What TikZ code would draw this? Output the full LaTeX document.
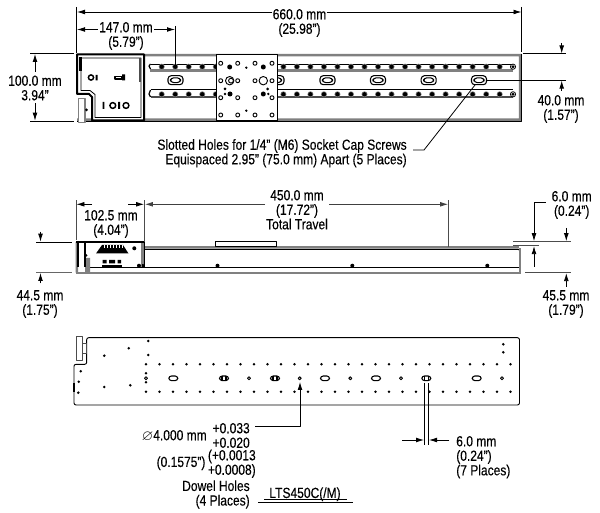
\documentclass[tikz,border=0pt]{standalone}
\usepackage{amssymb}
\usepackage{fontspec}
\setmainfont[FakeStretch=0.82,FakeBold=0.25]{Liberation Sans}
\usetikzlibrary{arrows.meta,positioning,calc}
\tikzset{
  dimtext/.style={font=\fontsize{11}{10.5}\selectfont,inner sep=0pt,text height=9.2pt,text depth=1.3pt},
  dimline/.style={line width=0.6pt,-{Latex[length=6pt,width=3.6pt]}},
  extline/.style={line width=0.6pt},
  railline/.style={line width=0.9pt},
  slothole/.style={line width=0.8pt,fill=white,rounded corners=2.4pt},
  openhole/.style={line width=0.7pt,fill=white},
}
\definecolor{bandgrey}{gray}{0.5}
\begin{document}
\begin{tikzpicture}[x=0.75pt,y=-0.75pt,line join=round]
\useasboundingbox (0,0) rectangle (600,513);
% top view
\fill[bandgrey] (77,54) rectangle (521,56.5) (77,118.5) rectangle (521,120.8) (518.8,54) rectangle (521.6,120.8);
\draw[extline] (521.8,54) -- (521.8,121) -- (77,121);
\fill[bandgrey] (150,69) rectangle (513,72);
\draw[railline] (151,64.3) -- (513,64.3) (151,89.3) -- (513,89.3);
\draw[line width=1pt,draw=black!70] (151,97) -- (513,97);
\draw[railline] (150.5,64) -- (149,66) -- (150.5,69);
\draw[railline] (150.5,90) -- (149,94) -- (150.5,97);
\foreach \k in {0,...,25} {
  \fill[bandgrey] ({161.7+13.52*\k},66.7) circle (3) ({161.7+13.52*\k},94.3) circle (3);
  \fill ({161.7+13.52*\k},66.7) circle (2.2) ({161.7+13.52*\k},94.3) circle (2.2);
}
\draw[extline,fill=white] (513,66.7) circle (2.6) (513,94.3) circle (2.6);
\fill (513,66.7) circle (1.6) (513,94.3) circle (1.6);
\foreach \sx in {175.5,276.5,327.5,378,428.7,479} {
  \draw[slothole] (\sx-7.5,75.7) rectangle (\sx+7.5,84.7);
  \draw[slothole] (\sx-5,77.8) rectangle (\sx+5,82.6);
}
% plate
\draw[line width=1.1pt,fill=white] (216.7,54.5) rectangle (277.3,121);
\foreach \hx in {220.7,237.7,255,272} {
  \foreach \hy in {63.3,80.7,97.7,115} {
    \draw[openhole] (\hx,\hy) circle (2);
  }
}
\draw[openhole] (229.7,80.7) circle (4.2) (263.3,80.7) circle (4.2);
\draw[openhole] (231,80.7) circle (2.4);
\fill (229.7,67) circle (2.5) (263.3,67) circle (2.5) (230,94) circle (2.5) (263.3,94) circle (2.5)
  (225,89) circle (1.5) (267.7,89) circle (1.5) (225,94) circle (1.3) (268.3,94) circle (1.3)
  (246.3,67.7) circle (1.3) (246.3,110.7) circle (1.3);
% carriage
\draw[line width=1.5pt,fill=white] (77,54.5) -- (144,54.5) -- (144,120.5) -- (92,120.5) -- (92,97) -- (89,94) -- (77,94) -- cycle;
\draw[line width=0.6pt] (81,58) -- (141,58) -- (141,117.5) -- (95,117.5) -- (95,94.5) -- (90,90.5) -- (81,90.5) -- cycle;
\fill (79,57) rectangle (82,71);
\fill[black!70] (138.5,58) rectangle (140.5,82);
\draw[line width=1.1pt] (91,77.5) circle (2.6) (112.8,105.5) circle (2.9) (126,105.5) circle (2.9);
\fill (95.7,75) rectangle (97.7,80.3) (102.5,102) rectangle (104.3,109) (118.2,102) rectangle (120,109) (122,74.5) rectangle (125,80.3);
\draw[line width=0.9pt] (115,76.3) rectangle (122,79);
\draw[line width=1pt,draw=black!50,fill=white] (78.5,98.5) rectangle (85,122.5);
\fill (86.5,110) circle (1.5);
% top view dimensions
\coordinate (topLeft) at (77,12);
\coordinate (topRight) at (521.5,12);
\draw[extline] (76.3,7) -- (76.3,53);
\draw[extline] (521.8,7) -- (521.8,52);
\node[dimtext] (lenAll) at (299.5,14) {660.0 mm};
\node[dimtext,below=0pt of lenAll] (lenAllIn) {(25.98'')};
\draw[dimline] (lenAll.west|-topLeft) -- (topLeft);
\draw[dimline] (lenAll.east|-topRight) -- (topRight);
\coordinate (slotLeft) at (77,29.5);
\coordinate (slotFirst) at (175,29.5);
\node[dimtext] (lenSlot) at (126,27) {147.0 mm};
\node[dimtext,below=0pt of lenSlot] (lenSlotIn) {(5.79'')};
\draw[dimline] ([xshift=-1pt]lenSlot.west|-slotLeft) -- (slotLeft);
\draw[dimline] ([xshift=1pt]lenSlot.east|-slotFirst) -- (slotFirst);
\draw[extline] (175,26) -- (175,67);
\draw[extline] (30,53.7) -- (74,53.7) (30,121) -- (74,121);
\node[dimtext] (lenWidth) at (35,80.5) {100.0 mm};
\node[dimtext,below=0pt of lenWidth] (lenWidthIn) {3.94''};
\draw[dimline] (35,72) -- (35,54);
\draw[dimline] (35,103) -- (35,120.7);
\draw[extline] (523,53.7) -- (566,53.7) (487,80.3) -- (566,80.3);
\draw[dimline] (561.7,43) -- (561.7,53.5);
\draw[dimline] (561.7,91) -- (561.7,80.6);
\node[dimtext] (lenRail) at (561,100) {40.0 mm};
\node[dimtext,below=0pt of lenRail] (lenRailIn) {(1.57'')};
\node[dimtext,anchor=east] (slotNote) at (407,144.5) {Slotted Holes for 1/4'' (M6) Socket Cap Screws};
\node[dimtext,below=0pt of slotNote.south east,anchor=north east] (slotNoteB) {Equispaced 2.95'' (75.0 mm) Apart (5 Places)};
\draw[extline] (413,150) -- (424,150) -- (475,85);
% side view
\draw[line width=1.6pt,draw=black!50] (144,246.8) -- (519,246.8);
\draw[railline] (144,249.3) -- (518,249.3) to[out=0,in=90] (520,251);
\draw[railline] (90,267.3) -- (519,267.3);
\draw[line width=1.4pt,draw=black!50] (76,272.7) -- (521,272.7);
\fill[bandgrey] (518.5,248) rectangle (521.2,272.7);
\fill[bandgrey] (75.5,242) rectangle (78,272.7) (85,258) rectangle (90,272.7) (141,242) rectangle (144,267);
\draw[line width=0.8pt] (76,242) -- (144.5,242) -- (144.5,267) (78,242) -- (78,267) (85,242) -- (85,267);
\draw[line width=0.6pt,fill=white] (215.7,241.7) rectangle (276.7,246);
\fill (102,245) -- (123,245) -- (128.5,253.5) -- (96,253.5) -- cycle;
\foreach \bx in {104,107,...,122} {
  \draw[white,line width=0.35pt] (\bx,245) -- (\bx,248);
}
\fill (134.3,248.3) circle (2) (139,265.7) circle (2) (86,255.5) circle (1.5);
\fill (102.5,260) rectangle (106.5,263.5) (109,260) rectangle (115,263.5) (117.5,260) rectangle (121,263.5);
\draw[line width=0.8pt] (102,266) -- (122,266);
\draw[line width=0.5pt,fill=white] (142,264.5) rectangle (143.5,267);
\foreach \dx in {217.5,352.3,487.3} {
  \fill (\dx,265.7) circle (2);
}
% side view dimensions
\draw[extline,draw=black!70] (76,200.5) -- (76,240) (144.5,200.5) -- (144.5,242) (448.5,200.5) -- (448.5,247);
\draw[dimline] (92,204.3) -- (76.4,204.3);
\draw[dimline] (128,204.3) -- (144.1,204.3);
\node[dimtext] (lenCarriage) at (111,215) {102.5 mm};
\node[dimtext,below=0pt of lenCarriage] (lenCarriageIn) {(4.04'')};
\node[dimtext] (lenTravel) at (297,195) {450.0 mm};
\node[dimtext,below=0pt of lenTravel] (lenTravelIn) {(17.72'')};
\node[dimtext,below=0pt of lenTravelIn] (lenTravelNote) {Total Travel};
\coordinate (travelLeft) at (144.9,204.3);
\coordinate (travelRight) at (448.1,204.3);
\draw[dimline,draw=black!75] (265,204.3) -- (travelLeft);
\draw[dimline,draw=black!75] (329,204.3) -- (travelRight);
\draw[extline] (36,242) -- (72,242);
\draw[extline,draw=black!60] (36,272.7) -- (72,272.7);
\draw[dimline] (40.5,231.7) -- (40.5,241.7);
\draw[dimline] (40.5,283.5) -- (40.5,273);
\node[dimtext] (lenLeft) at (40,295) {44.5 mm};
\node[dimtext,below=0pt of lenLeft] (lenLeftIn) {(1.75'')};
\draw[extline,draw=black!70] (513,241.6) -- (571,241.6) (513,245.7) -- (538.5,245.7) (525,272.7) -- (571,272.7);
\node[dimtext] (lenTop) at (571.7,196) {6.0 mm};
\node[dimtext,below=0pt of lenTop] (lenTopIn) {(0.24'')};
\draw[dimline] (545.5,202.7) -- (534,202.7) -- (534,241.2);
\draw[dimline] (534,267) -- (534,246.1);
\draw[dimline] (566.3,228) -- (566.3,241.2);
\draw[dimline] (566.3,286.7) -- (566.3,273.1);
\node[dimtext] (lenRight) at (566,295) {45.5 mm};
\node[dimtext,below=0pt of lenRight] (lenRightIn) {(1.79'')};
% bottom view
\draw[line width=0.7pt,rounded corners=1.5pt] (86.7,337.7) -- (519.5,337.7) -- (519.5,405) -- (74,405) -- (74,364.3) -- (86.7,364.3) -- cycle;
\draw[line width=1.2pt] (74,383) -- (74,392);
\draw[line width=0.6pt,draw=black!70,fill=white] (76,336) rectangle (82.3,360.7);
\draw[line width=0.5pt,draw=black!70] (82.3,343) rectangle (86.7,353);
\foreach \k in {0,...,27} {
  \fill ({146+13.5*\k},364.3) circle (1.4) ({146+13.5*\k},391.7) circle (1.4);
}
\foreach \dx/\dy in {146/373.3,146/382.3,148.3/341,148.3/355,128.7/348.3,104.3/355.7,80.7/371.3,78.7/381.7,104.3/387,130.3/385.3,78.3/392.7,503.3/344.3,503.3/352.3} {
  \fill (\dx,\dy) circle (1.4);
}
\foreach \sx in {146,249,299.7,350.3,401,502} {
  \draw[openhole] (\sx,378.3) circle (1.5);
}
\foreach \sx in {173.3,224,275,325,376,426.3,476.7} {
  \draw[slothole,rounded corners=2pt] (\sx-4.5,376) rectangle (\sx+4.5,380.6);
}
\foreach \sx in {224,275,426.3} {
  \draw[line width=0.9pt] (\sx-2,376.5) -- (\sx-2,380) (\sx+2,376.5) -- (\sx+2,380);
}
% bottom view dimensions
\draw[dimline] (255,426.7) -- (300,426.7) -- (300,382);
\draw[extline] (424.3,383) -- (424.3,445) (428.7,383) -- (428.7,445);
\draw[dimline] (402.3,440) -- (424,440);
\draw[dimline] (449.3,440) -- (429,440);
\node[dimtext,anchor=west] (lenPin) at (456,441) {6.0 mm};
\node[dimtext,below=0pt of lenPin.south west,anchor=north west] (lenPinIn) {(0.24'')};
\node[dimtext,below=0pt of lenPinIn.south west,anchor=north west] (lenPinNote) {(7 Places)};
\node[dimtext,anchor=east] (tolUp) at (250,428) {+0.033};
\node[dimtext,below=0pt of tolUp.south east,anchor=north east] (tolLow) {+0.020};
\node[dimtext,anchor=east] (tolUpIn) at (256,455) {(+0.0013};
\node[dimtext,below=0pt of tolUpIn.south east,anchor=north east] (tolLowIn) {+0.0008)};
\node[dimtext,anchor=east] (dowelDia) at (207,435) {$\varnothing$4.000 mm};
\node[dimtext,anchor=east] (dowelDiaIn) at (205.7,461.7) {(0.1575'')};
\node[dimtext,anchor=east] (dowelNote) at (250,485.7) {Dowel Holes};
\node[dimtext,below=0pt of dowelNote.south east,anchor=north east] (dowelNoteB) {(4 Places)};
\node[dimtext] (partName) at (305,492.7) {LTS450C(/M)};
\draw[extline] (264.3,499) -- (346.7,499) (258,502.3) -- (353.3,502.3);
\end{tikzpicture}
\end{document}
